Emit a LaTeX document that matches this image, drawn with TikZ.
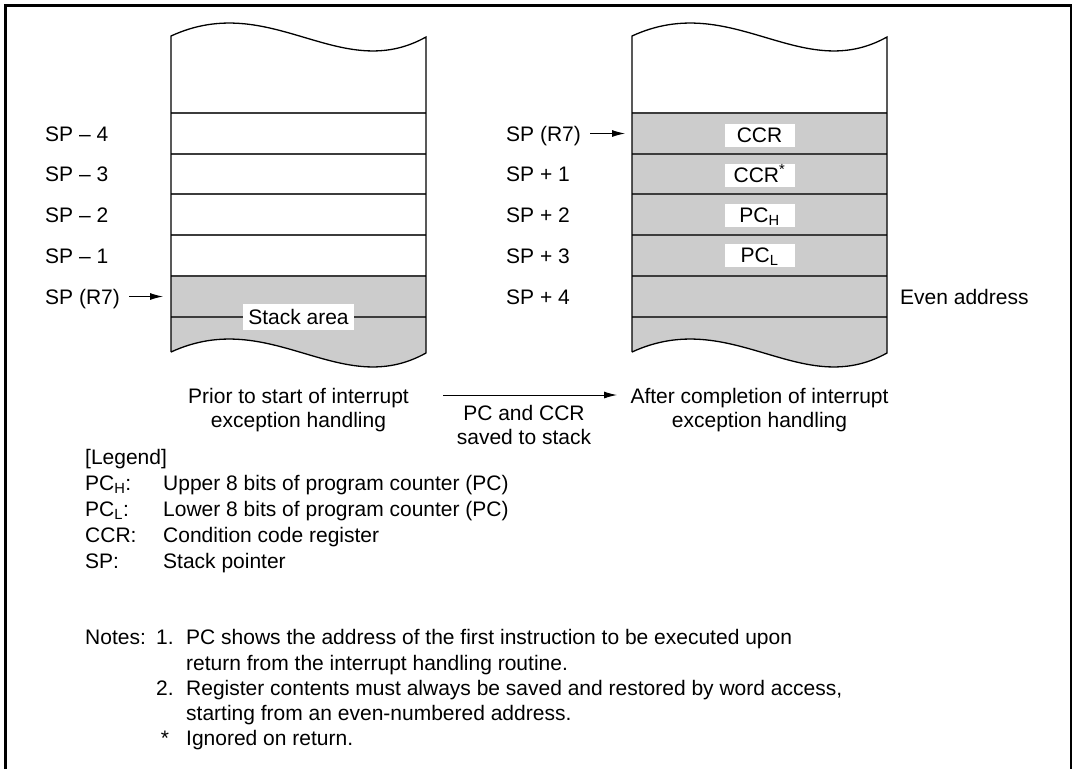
\documentclass[tikz,border=0pt]{standalone}
\usepackage{fontspec}
\setmainfont{Liberation Sans}
\usepackage{tikz}
\usetikzlibrary{arrows.meta,positioning}
\definecolor{st-gray}{HTML}{CCCCCC}
\definecolor{st-line}{HTML}{3C3C3C}

\begin{document}
\begin{tikzpicture}[x=1pt, y=-1pt, font=\fontsize{21}{24}\selectfont,
    txt/.style={inner sep=0pt, text height=15pt, text depth=0pt, anchor=west},
    cell/.style={fill=white, inner sep=0pt, text height=15pt, text depth=0pt, minimum width=70pt, minimum height=23pt},
    captxt/.style={align=center, inner sep=0pt},
    arr/.style={-{Latex[length=13pt,width=7pt]}, line width=1pt}]
    \useasboundingbox (0,0) rectangle (1075,769);
    % frame, open at the bottom
    \draw[line width=2.5pt] (5.5,769) -- (5.5,5.5) -- (1071,5.5) -- (1071,769);

    % stack before the interrupt
    \fill[st-gray] (171,276) -- (426,276) -- (426,353) .. controls (340,401) and (271,306) .. (171,352) -- cycle;
    \foreach \y in {113,154,194,235,276,317}
        \draw[st-line, line width=1.3pt] (171,\y) -- (426,\y);
    \draw[line width=1.3pt] (171,352) -- (171,36) .. controls (271,-10) and (340,85) .. (426,37) -- (426,353) .. controls (340,401) and (271,306) .. (171,352);
    \node[fill=white, inner xsep=5pt, inner ysep=5.5pt, text height=15pt, text depth=0pt] (area) at (298.5,317) {Stack area};

    % stack after the interrupt
    \fill[st-gray] (632,113) -- (887,113) -- (887,353) .. controls (801,401) and (732,306) .. (632,352) -- cycle;
    \foreach \y in {113,154,194,235,276,317}
        \draw[st-line, line width=1.3pt] (632,\y) -- (887,\y);
    \draw[line width=1.3pt] (632,352) -- (632,36) .. controls (732,-10) and (801,85) .. (887,37) -- (887,353) .. controls (801,401) and (732,306) .. (632,352);
    \node[cell] (ccr) at (759.5,135) {CCR};
    \node[cell] (ccrx) at (759.5,175) {CCR\textsuperscript{*}};
    \node[cell] (pch) at (759.5,215) {PC\textsubscript{H}};
    \node[cell] (pcl) at (759.5,255) {PC\textsubscript{L}};

    % addresses
    \node[txt] (lsp4) at (45,133.5) {SP -- 4};
    \node[txt] (lsp3) at (45,174) {SP -- 3};
    \node[txt] (lsp2) at (45,214.5) {SP -- 2};
    \node[txt] (lsp1) at (45,255.5) {SP -- 1};
    \node[txt] (lsp) at (45,296.5) {SP (R7)};
    \coordinate (lspto) at (163,296.5);
    \draw[arr, shorten <=9pt] (lsp) -- (lsp -| lspto);

    \node[txt] (rsp) at (506,133.5) {SP (R7)};
    \node[txt] (rsp1) at (506,174) {SP + 1};
    \node[txt] (rsp2) at (506,214.5) {SP + 2};
    \node[txt] (rsp3) at (506,255.5) {SP + 3};
    \node[txt] (rsp4) at (506,296.5) {SP + 4};
    \coordinate (rspto) at (625,133.5);
    \draw[arr, shorten <=9pt] (rsp) -- (rsp -| rspto);
    \node[txt] (even) at (900,296.5) {Even address};

    % captions
    \node[captxt] (before) at (298.5,410) {Prior to start of interrupt\\exception handling};
    \node[captxt] (after) at (759.5,410) {After completion of interrupt\\exception handling};
    \coordinate (savefrom) at (443,395);
    \coordinate (saveto) at (617,395);
    \draw[arr] (savefrom) -- node[captxt, below=10pt, xshift=-6pt] (saved) {PC and CCR\\saved to stack} (saveto);

    % legend
    \node[txt] (legend) at (85,457) {[Legend]};
    \node[txt] (kpch) at (85,483) {PC\textsubscript{H}:};
    \node[txt] (kpcl) at (85,509) {PC\textsubscript{L}:};
    \node[txt] (kccr) at (85,535) {CCR:};
    \node[txt] (ksp) at (85,561) {SP:};
    \node[txt] (dpch) at (163,483) {Upper 8 bits of program counter (PC)};
    \node[txt] (dpcl) at (163,509) {Lower 8 bits of program counter (PC)};
    \node[txt] (dccr) at (163,535) {Condition code register};
    \node[txt] (dsp) at (163,561) {Stack pointer};

    % notes
    \node[txt] (notes) at (85,637) {Notes:};
    \node[txt] (n1num) at (156,637) {1.};
    \node[txt] (n1) at (186,637) {PC shows the address of the first instruction to be executed upon};
    \node[txt] (n1b) at ([yshift=-26pt]n1.west) {return from the interrupt handling routine.};
    \node[txt] (n2num) at ([yshift=-51pt]n1num.west) {2.};
    \node[txt] (n2) at ([yshift=-51pt]n1.west) {Register contents must always be saved and restored by word access,};
    \node[txt] (n2b) at ([yshift=-76pt]n1.west) {starting from an even-numbered address.};
    \node[txt, anchor=center] (n3num) at ([yshift=-101pt]n1num.center) {*};
    \node[txt] (n3) at ([yshift=-101pt]n1.west) {Ignored on return.};
\end{tikzpicture}
\end{document}
